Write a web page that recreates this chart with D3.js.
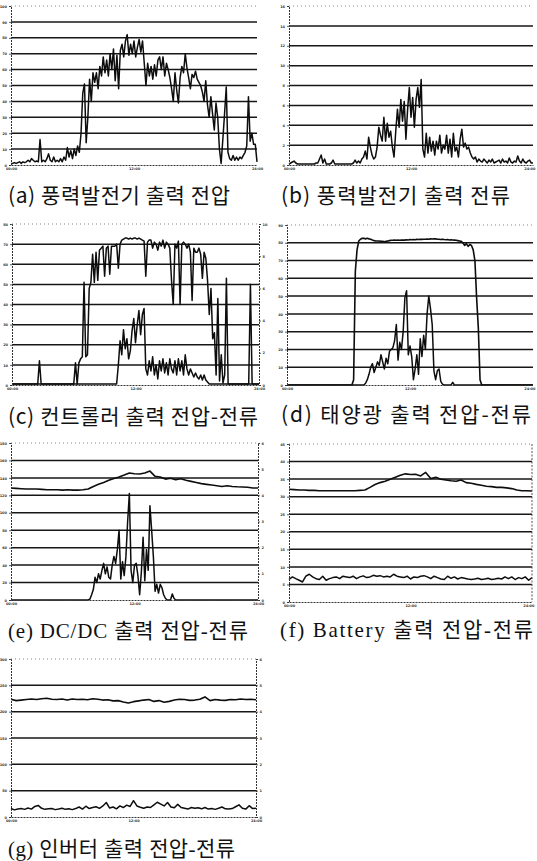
<!DOCTYPE html>
<html>
<head>
<meta charset="utf-8">
<title>Hybrid system measurements</title>
<script src="https://cdn.jsdelivr.net/npm/d3@7"></script>
<style>
	body { margin: 0; background: #fff; }
	.grid { stroke: #161616; stroke-width: 1.5; }
	.topline { stroke: #666; stroke-width: 0.8; stroke-dasharray: 1,3; }
	.trace { fill: none; stroke: #0d0d0d; stroke-width: 1.5; stroke-linejoin: round; }
	.smooth { stroke-width: 1.6; }
	.axis text { font-family: 'DejaVu Sans', sans-serif; font-size: 3.5px; font-weight: bold; fill: #333; }
	.axis line { stroke: #333; stroke-width: 0.8; }
	.axis path { stroke: #333; stroke-width: 1; stroke-dasharray: 2,1; fill: none; }
	.caption { font-size: 21px; fill: #111; }
</style>
</head>
<body>
<script>
	// time axis (hours), same for every panel
	var xTicks = [0, 12, 24];
	var xTickLabels = ['00:00', '12:00', '24:00'];

	// (a) wind generator voltage, 10 min steps, in grid units
	var aVolt = [0.1,0.1,0.15,0.1,0.15,0.2,0.1,0.2,0.15,0.2,
		0.3,0.2,0.4,0.3,0.2,0.25,0.2,1.6,0.2,0.3,
		0.2,0.4,0.7,0.3,0.2,0.5,0.2,0.3,0.2,0.4,
		0.2,0.5,0.3,1.1,0.5,0.9,0.4,1.0,0.6,1.2,
		0.8,2.0,4.5,5.1,1.4,3.0,5.4,4.0,5.8,5.2,
		5.8,4.8,6.2,5.6,6.8,5.8,6.6,5.6,7.0,6.0,
		7.3,5.3,6.9,4.8,7.2,7.6,6.8,7.8,8.2,6.9,
		7.6,7.0,7.8,6.8,7.4,7.9,7.1,7.8,6.4,5.0,
		6.4,5.6,6.2,5.4,6.3,5.6,6.6,6.8,6.0,6.8,
		5.6,6.4,6.0,5.5,4.8,4.0,5.8,4.7,3.9,5.5,
		6.2,5.8,7.0,6.1,5.5,4.8,5.7,5.5,5.9,5.4,
		5.2,5.0,4.6,4.0,5.3,3.8,3.0,4.3,3.2,2.2,
		3.9,3.0,1.0,0.1,1.6,3.2,4.9,0.8,0.4,0.3,
		0.6,0.3,0.5,0.3,0.5,0.4,0.6,0.8,1.2,4.3,
		1.5,2.0,1.3,1.3,0.2];
	var aYLabels = ['0','10','20','30','40','50','60','70','80','90','100'];

	// (b) wind generator current
	var bCurr = [0.05,0.1,0.15,0.2,0.1,0.05,0.05,0.05,0.05,0.05,
		0.05,0.05,0.05,0.05,0.05,0.05,0.1,0.1,0.3,0.5,
		0.1,0.3,0.05,0.05,0.05,0.1,0.25,0.05,0.05,0.05,
		0.05,0.05,0.05,0.05,0.05,0.05,0.05,0.05,0.1,0.25,
		0.1,0.2,0.1,0.3,0.4,0.7,0.3,1.4,0.9,0.5,
		0.3,0.4,0.9,1.9,1.5,1.2,2.4,1.2,2.1,1.4,
		1.7,0.9,0.4,1.7,2.8,1.9,3.3,2.2,3.2,1.3,
		2.8,3.9,2.4,3.4,1.9,3.3,3.9,2.9,4.3,0.8,
		0.4,1.6,0.6,1.4,0.7,1.2,0.5,1.2,0.8,1.5,
		0.6,1.0,0.8,1.5,0.6,1.3,0.4,1.6,0.7,0.9,
		0.4,1.3,1.8,0.9,1.1,0.8,0.9,0.6,0.4,0.3,
		0.4,0.15,0.3,0.2,0.15,0.3,0.2,0.1,0.25,0.15,
		0.3,0.1,0.15,0.2,0.25,0.1,0.3,0.15,0.2,0.1,
		0.35,0.15,0.1,0.2,0.15,0.45,0.2,0.1,0.3,0.15,
		0.1,0.2,0.25,0.1,0.1];
	var bYLabels = ['0','2','4','6','8','10','12','14','16'];

	// (c) controller voltage and current
	var cVolt = [0.05,0.05,0.05,0.05,0.05,0.05,0.05,0.05,0.05,0.05,
		0.05,0.05,0.05,0.05,0.05,0.05,1.2,0.05,0.05,0.05,
		0.05,0.05,0.05,0.05,0.05,0.05,0.05,0.05,0.05,0.05,
		0.05,0.05,0.05,0.05,0.05,0.05,0.05,1.1,0.05,1.1,
		1.3,1.4,5.1,1.4,1.5,4.8,5.1,6.5,5.1,6.6,
		5.2,6.7,6.8,6.9,5.4,6.8,6.9,5.5,6.9,6.9,
		6.9,7.0,5.8,7.0,7.2,7.25,7.3,7.3,7.25,7.3,
		7.25,7.3,7.3,7.25,7.3,7.25,7.2,7.15,5.4,7.1,
		7.2,7.2,6.8,7.1,7.0,6.7,7.1,6.9,7.2,6.8,
		7.1,7.0,6.8,5.2,4.0,7.0,6.8,7.15,4.0,7.0,
		7.1,7.0,6.8,7.0,6.6,4.2,6.8,6.6,6.6,6.8,
		6.5,5.3,6.6,6.3,5.2,3.5,4.8,2.3,2.6,0.5,
		4.3,0.2,1.5,0.1,0.5,5.3,0.05,0.05,0.05,0.05,
		0.05,0.05,0.05,0.05,0.05,0.05,0.05,0.05,0.05,5.0,
		0.05,0.05,0.05,0.05,0.05];
	var cCurr = [0.05,0.05,0.05,0.05,0.05,0.05,0.05,0.05,0.05,0.05,
		0.05,0.05,0.05,0.05,0.05,0.05,0.05,0.05,0.05,0.05,
		0.05,0.05,0.05,0.05,0.05,0.05,0.05,0.05,0.05,0.05,
		0.05,0.05,0.05,0.05,0.05,0.05,0.05,0.05,0.05,0.05,
		0.05,0.05,0.05,0.05,0.05,0.05,0.05,0.05,0.05,0.05,
		0.05,0.05,0.05,0.05,0.05,0.05,0.05,0.05,0.05,0.05,
		0.05,0.05,1.0,2.2,1.5,2.75,1.8,2.3,1.3,1.7,
		2.7,3.3,2.1,3.0,3.7,2.5,3.5,3.8,0.8,0.5,
		1.2,0.7,1.4,0.5,1.0,0.3,1.2,0.7,1.3,0.6,
		1.1,0.5,1.3,0.8,0.6,1.2,0.5,1.3,0.7,1.2,
		0.5,1.5,0.8,0.5,0.8,0.6,0.4,0.6,0.4,0.3,
		0.5,0.25,0.5,0.25,0.15,0.05,0.05,0.05,0.05,0.05,
		0.05,0.05,0.05,0.05,0.05,0.05,0.05,0.05,0.05,0.05,
		0.05,0.05,0.05,0.05,0.05,0.05,0.05,0.05,0.05,0.05,
		0.05,0.05,0.05,0.05,0.05];
	var cYLabels = ['0','10','20','30','40','50','60','70','80'];
	var cRLabels = ['0','2','4','6','8','10'];

	// (d) solar array voltage and current
	var dVolt = [0,0,0,0,0,0,0,0,0,0,
		0,0,0,0,0,0,0,0,0,0,
		0,0,0,0,0,0,0,0,0,0,
		0,0,0,0,0,0,0,0,0,0.3,
		6.4,7.6,8.1,8.2,8.25,8.25,8.22,8.25,8.22,8.2,
		8.15,8.12,8.1,8.1,8.1,8.08,8.08,8.06,8.08,8.1,
		8.12,8.14,8.14,8.15,8.14,8.15,8.14,8.15,8.16,8.15,
		8.17,8.16,8.18,8.17,8.18,8.17,8.19,8.18,8.2,8.19,
		8.2,8.2,8.21,8.2,8.22,8.21,8.22,8.22,8.2,8.2,
		8.18,8.2,8.18,8.17,8.18,8.16,8.17,8.16,8.15,8.14,
		8.12,8.1,8.08,8.0,7.85,7.95,7.8,7.9,7.85,7.6,
		7.0,4.9,3.2,0.3,0,0,0,0,0,0,
		0,0,0,0,0,0,0,0,0,0,
		0,0,0,0,0,0,0,0,0,0,
		0,0,0,0,0];
	var dCurr = [0,0,0,0,0,0,0,0,0,0,
		0,0,0,0,0,0,0,0,0,0,
		0,0,0,0,0,0,0,0,0,0,
		0,0,0,0,0,0,0,0,0,0,
		0,0,0,0,0,0,0.1,0.3,0.6,1.0,
		1.2,0.7,1.0,1.3,1.1,1.7,1.3,0.9,1.5,1.2,
		1.9,2.0,2.1,2.5,3.4,1.4,2.4,2.0,3.0,4.9,
		5.3,1.7,2.2,1.6,0.3,0.9,1.7,0.6,2.6,1.6,
		2.8,2.0,4.0,5.0,4.3,3.4,0.8,0.3,0.8,0.9,
		0.2,0.05,0,0,0,0,0,0.15,0,0,
		0,0,0,0,0,0,0,0,0,0,
		0,0,0,0,0,0,0,0,0,0,
		0,0,0,0,0,0,0,0,0,0,
		0,0,0,0,0,0,0,0,0,0,
		0,0,0,0,0];
	var dYLabels = ['0','10','20','30','40','50','60','70','80','90'];

	// (e) DC/DC converter voltage (30 min) and current (10 min)
	var eVolt = [6.42,6.40,6.38,6.36,6.36,6.36,6.34,6.32,6.32,6.32,
		6.30,6.32,6.30,6.30,6.32,6.36,6.51,6.63,6.74,6.86,
		6.97,7.05,7.16,7.28,7.24,7.22,7.28,7.39,7.09,7.05,
		6.93,6.98,6.90,6.95,6.86,6.80,6.74,6.67,6.63,6.59,
		6.55,6.51,6.55,6.51,6.49,6.48,6.46,6.42,6.42];
	var eCurr = [0,0,0,0,0,0,0,0,0,0,
		0,0,0,0,0,0,0,0,0,0,
		0,0,0,0,0,0,0,0,0,0,
		0,0,0,0,0,0,0,0,0,0,
		0,0,0,0,0,0,0.05,0.3,0.6,1.3,
		1.0,1.5,1.2,1.7,2.1,1.5,1.9,1.3,1.2,2.0,
		2.5,2.1,2.9,4.0,1.2,2.2,1.4,2.5,4.5,6.1,
		1.7,1.0,2.0,2.1,1.4,0.3,1.6,3.6,1.1,2.9,
		1.7,5.4,4.0,2.5,0.5,0.9,0.4,0.9,0.7,0.3,
		0.1,0,0,0,0.35,0.1,0,0,0,0,
		0,0,0,0,0,0,0,0,0,0,
		0,0,0,0,0,0,0,0,0,0,
		0,0,0,0,0,0,0,0,0,0,
		0,0,0,0,0,0,0,0,0,0,
		0,0,0,0,0];
	var eYLabels = ['0','20','40','60','80','100','120','140','160','180'];
	var eRLabels = ['0','1','2','3','4','5','6'];

	// (f) battery voltage (30 min) and current (20 min)
	var fVolt = [6.42,6.40,6.38,6.38,6.36,6.36,6.34,6.34,6.34,6.34,
		6.34,6.34,6.34,6.34,6.36,6.38,6.53,6.69,6.80,6.88,
		6.99,7.10,7.22,7.30,7.26,7.28,7.18,7.38,7.03,7.10,
		6.99,6.95,6.91,6.88,6.95,6.80,6.76,6.70,6.65,6.59,
		6.57,6.53,6.53,6.50,6.46,6.38,6.34,6.34,6.32];
	var fCurr = [1.28,1.43,1.33,1.24,1.14,1.47,1.58,1.43,1.33,1.28,
		1.47,1.24,1.33,1.39,1.43,1.33,1.47,1.43,1.39,1.47,
		1.33,1.43,1.49,1.39,1.43,1.52,1.47,1.50,1.43,1.47,
		1.43,1.58,1.47,1.43,1.39,1.47,1.31,1.43,1.39,1.47,
		1.50,1.43,1.33,1.47,1.39,1.31,1.28,1.47,1.35,1.43,
		1.31,1.39,1.35,1.31,1.28,1.31,1.35,1.28,1.31,1.35,
		1.28,1.31,1.35,1.31,1.43,1.33,1.43,1.28,1.39,1.33,
		1.43,1.24,1.39];
	var fYLabels = ['0','5','10','15','20','25','30','35','40','45'];

	// (g) inverter voltage (30 min) and current (20 min)
	var gVolt = [4.47,4.42,4.44,4.46,4.48,4.46,4.49,4.51,4.47,4.46,
		4.48,4.44,4.48,4.46,4.47,4.45,4.49,4.47,4.44,4.45,
		4.41,4.42,4.37,4.33,4.38,4.41,4.44,4.46,4.39,4.42,
		4.36,4.39,4.44,4.47,4.46,4.43,4.44,4.47,4.56,4.42,
		4.46,4.44,4.43,4.46,4.45,4.48,4.46,4.47,4.45];
	var gCurr = [0.32,0.27,0.30,0.32,0.29,0.34,0.30,0.40,0.44,0.33,
		0.29,0.31,0.32,0.28,0.30,0.33,0.29,0.31,0.28,0.32,
		0.38,0.30,0.41,0.32,0.36,0.39,0.33,0.42,0.55,0.34,
		0.38,0.31,0.42,0.36,0.45,0.40,0.62,0.42,0.37,0.33,
		0.38,0.36,0.46,0.56,0.49,0.42,0.55,0.38,0.35,0.48,
		0.36,0.33,0.30,0.36,0.33,0.35,0.31,0.36,0.30,0.32,
		0.29,0.33,0.38,0.31,0.30,0.32,0.39,0.46,0.33,0.30,
		0.43,0.32,0.33];
	var gYLabels = ['0','50','100','150','200','250','300'];
	var gRLabels = ['0','1','2','3','4','5','6'];

	var sans = "'Noto Sans CJK KR', sans-serif";
	var serif = "'Liberation Serif', 'Noto Sans CJK KR', serif";

	var panels = [
		{ left: 11, right: 257, top: 6, bottom: 165, ndiv: 10, yLabels: aYLabels,
			series: [aVolt], smooth: [false],
			caption: '(a) 풍력발전기 출력 전압', font: sans, capX: 8, capY: 203, capW: 222 },
		{ left: 289, right: 533, top: 6, bottom: 165, ndiv: 8, yLabels: bYLabels,
			series: [bCurr], smooth: [false],
			caption: '(b) 풍력발전기 출력 전류', font: sans, capX: 281, capY: 203, capW: 229 },
		{ left: 12, right: 259, top: 224, bottom: 385, ndiv: 8, yLabels: cYLabels, rLabels: cRLabels,
			series: [cVolt, cCurr], smooth: [false, false],
			caption: '(c) 컨트롤러 출력 전압-전류', font: sans, capX: 8, capY: 424, capW: 250 },
		{ left: 287, right: 533, top: 225, bottom: 385, ndiv: 9, yLabels: dYLabels,
			series: [dVolt, dCurr], smooth: [true, false],
			caption: '(d) 태양광 출력 전압-전류', font: sans, capX: 281, capY: 422, capW: 250 },
		{ left: 11, right: 258, top: 443, bottom: 600, ndiv: 9, yLabels: eYLabels, rLabels: eRLabels,
			series: [eVolt, eCurr], smooth: [true, false],
			caption: '(e) DC/DC 출력 전압-전류', font: serif, capX: 8, capY: 638, capW: 240 },
		{ left: 289, right: 532, top: 444, bottom: 602, ndiv: 9, yLabels: fYLabels, rightLine: true,
			series: [fVolt, fCurr], smooth: [true, false],
			caption: '(f) Battery 출력 전압-전류', font: serif, capX: 280, capY: 637, capW: 253 },
		{ left: 11, right: 256, top: 659, bottom: 817, ndiv: 6, yLabels: gYLabels, rLabels: gRLabels,
			series: [gVolt, gCurr], smooth: [true, false],
			caption: '(g) 인버터 출력 전압-전류', font: serif, capX: 8, capY: 856, capW: 227 }
	];

	var svg = d3.select('body').append('svg')
		.attr('width', 537)
		.attr('height', 861);

	panels.forEach(function (p) {
		var g = svg.append('g');

		var x = d3.scaleLinear().domain([0, 24]).range([p.left, p.right]);
		var y = d3.scaleLinear().domain([0, p.ndiv]).range([p.bottom, p.top]);

		// horizontal grid
		g.selectAll('line.grid')
			.data(d3.range(1, p.ndiv))
			.enter()
			.append('line')
			.attr('class', 'grid')
			.attr('x1', p.left)
			.attr('x2', p.right)
			.attr('y1', function (d) { return y(d); })
			.attr('y2', function (d) { return y(d); });

		// dotted top border
		g.append('line')
			.attr('class', 'topline')
			.attr('x1', p.left).attr('x2', p.right)
			.attr('y1', y(p.ndiv)).attr('y2', y(p.ndiv));

		// traces
		p.series.forEach(function (vals, k) {
			var t = d3.scaleLinear().domain([0, vals.length - 1]).range([0, 24]);
			var line = d3.line()
				.x(function (d, i) { return x(t(i)); })
				.y(function (d) { return y(d); });
			g.append('path')
				.datum(vals)
				.attr('class', p.smooth[k] ? 'trace smooth' : 'trace')
				.attr('d', line);
		});

		// left axis
		g.append('g')
			.attr('class', 'axis')
			.attr('transform', 'translate(' + p.left + ',0)')
			.call(d3.axisLeft(y)
				.tickValues(d3.range(0, p.ndiv + 1))
				.tickSize(2)
				.tickPadding(2)
				.tickFormat(function (d) { return p.yLabels[d]; }));

		// right axis for the two-quantity panels
		if (p.rLabels) {
			var yr = d3.scaleLinear().domain([0, p.rLabels.length - 1]).range([p.bottom, p.top]);
			g.append('g')
				.attr('class', 'axis')
				.attr('transform', 'translate(' + p.right + ',0)')
				.call(d3.axisRight(yr)
					.tickValues(d3.range(0, p.rLabels.length))
					.tickSize(2)
					.tickPadding(1.5)
					.tickFormat(function (d) { return p.rLabels[d]; }));
		}
		if (p.rightLine) {
			g.append('line')
				.attr('x1', p.right).attr('x2', p.right)
				.attr('y1', p.top).attr('y2', p.bottom)
				.attr('stroke', '#444')
				.attr('stroke-width', 0.9)
				.attr('stroke-dasharray', '2,1.5');
		}

		// time axis
		var xa = g.append('g')
			.attr('class', 'axis')
			.attr('transform', 'translate(0,' + p.bottom + ')')
			.call(d3.axisBottom(x)
				.tickValues(xTicks)
				.tickSize(0)
				.tickPadding(3)
				.tickFormat(function (d, i) { return xTickLabels[i]; }));
		xa.select('.domain')
			.attr('stroke-dasharray', '1.5,1.5')
			.attr('stroke-width', 0.8);
		if (p.right > 525) {
			xa.selectAll('.tick text')
				.filter(function (d) { return d === 24; })
				.attr('text-anchor', 'end')
				.attr('dx', 2);
		}

		// caption
		g.append('text')
			.attr('class', 'caption')
			.attr('x', p.capX)
			.attr('y', p.capY)
			.attr('textLength', p.capW)
			.attr('lengthAdjust', 'spacing')
			.style('font-family', p.font)
			.text(p.caption);
	});
</script>
</body>
</html>
